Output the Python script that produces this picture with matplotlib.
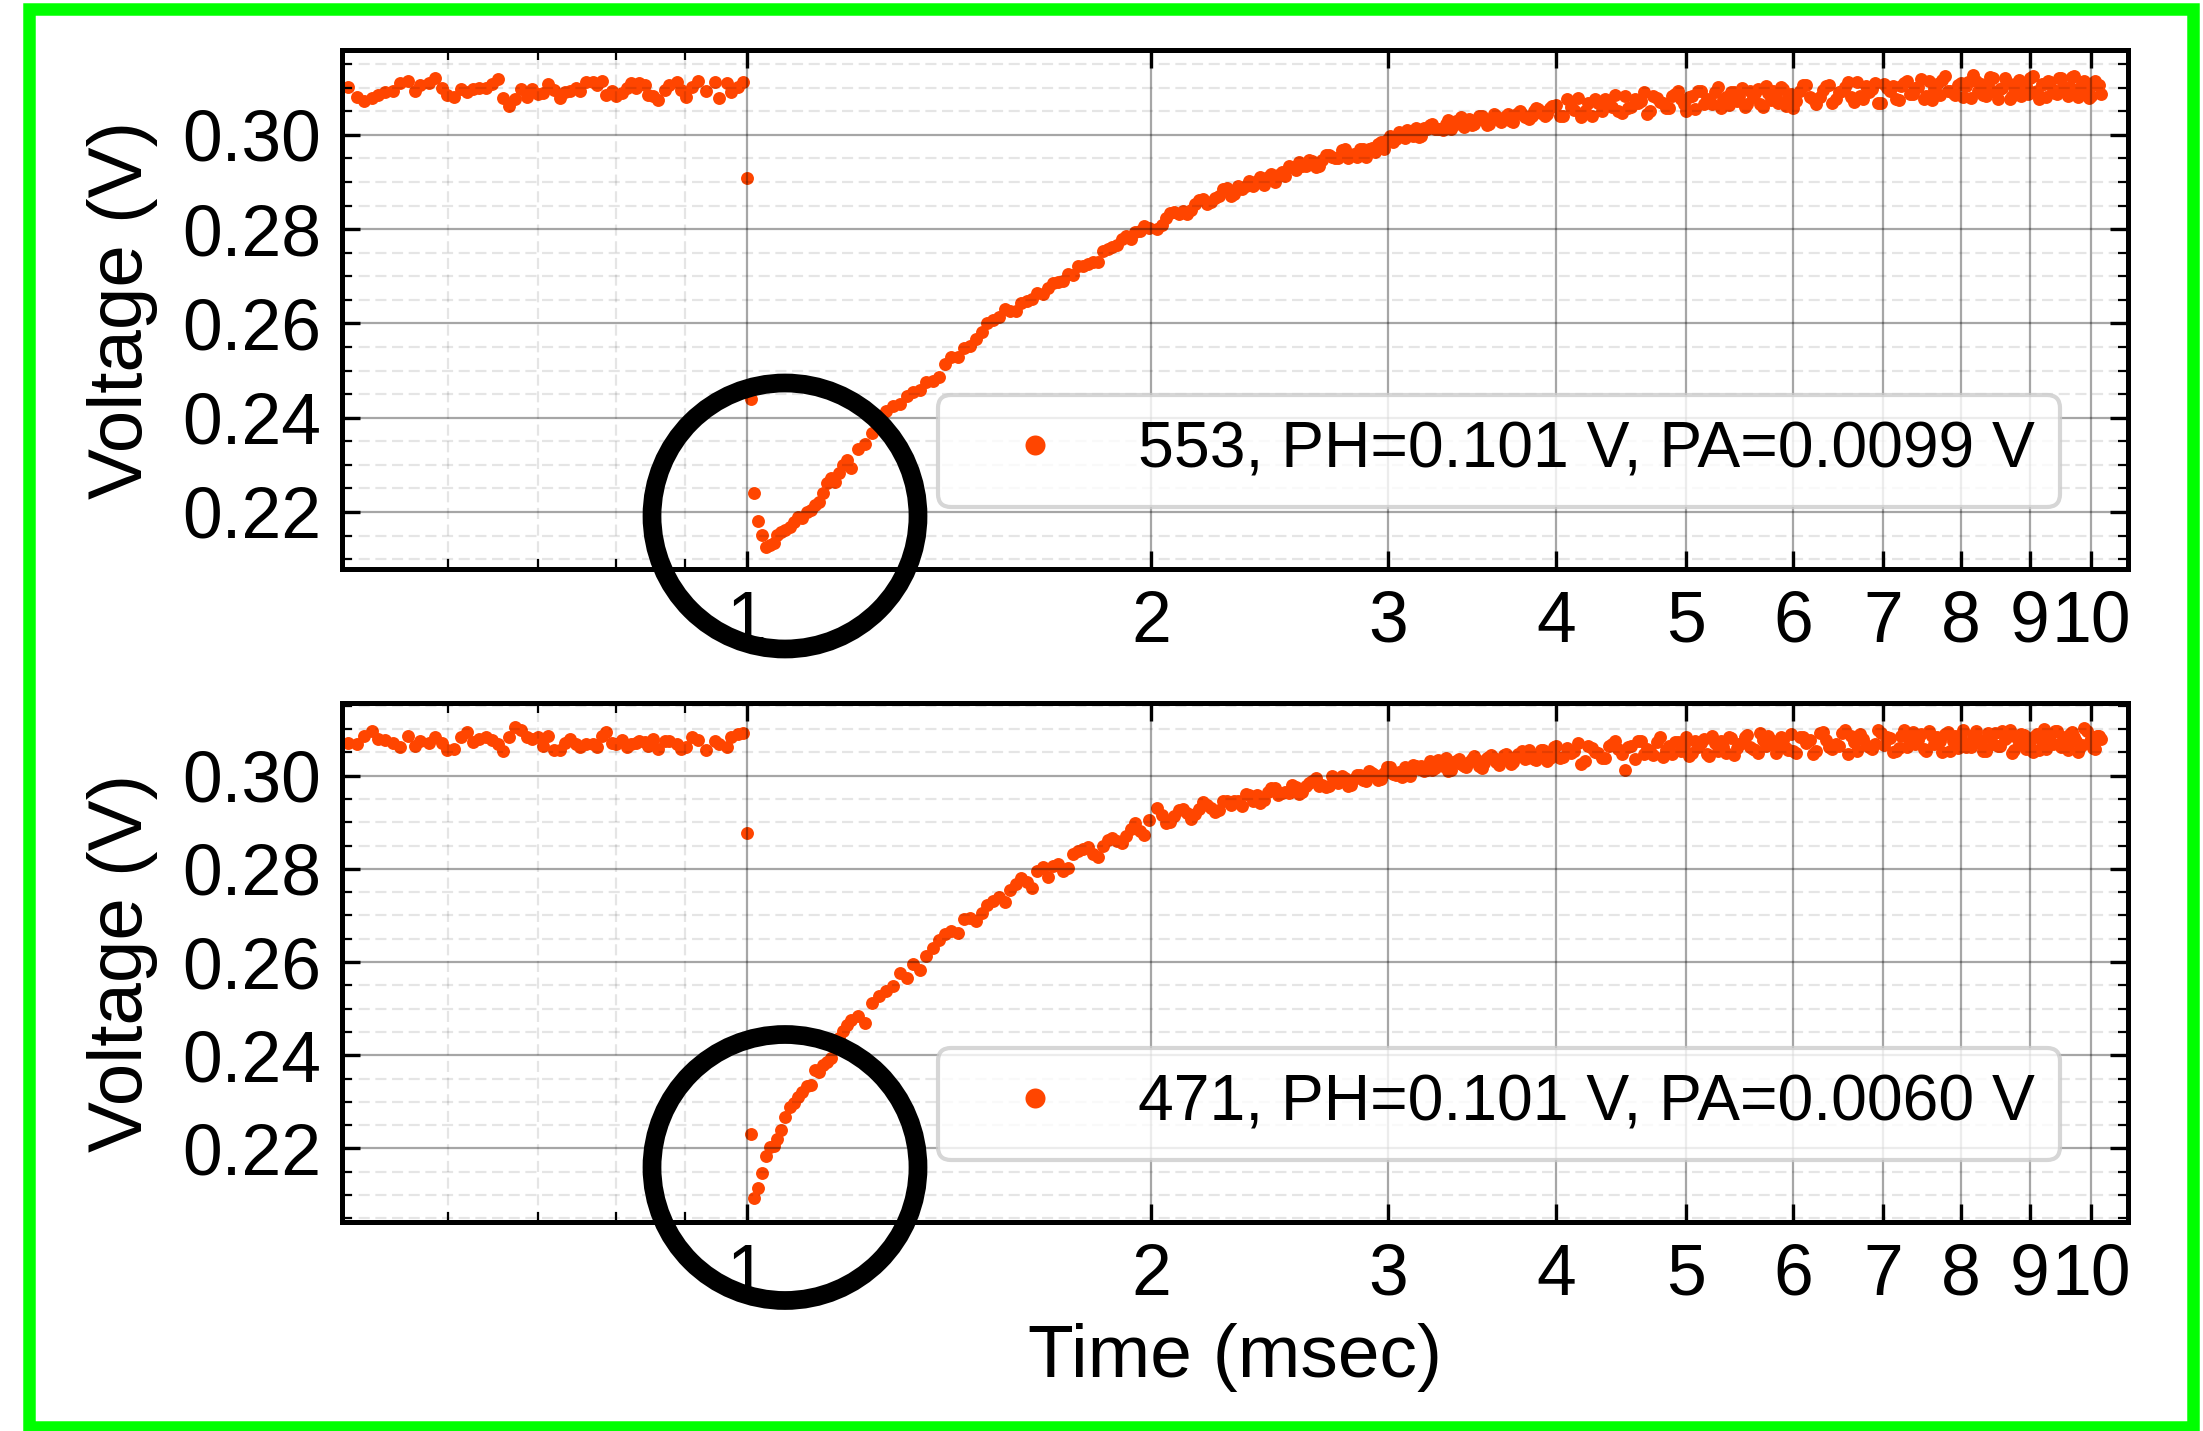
import matplotlib
matplotlib.use('Agg')
import matplotlib.pyplot as plt
import numpy as np
from matplotlib.ticker import (FixedLocator, FixedFormatter, MultipleLocator,
                               FormatStrFormatter, NullFormatter)
from matplotlib.patches import Ellipse, Rectangle

plt.rcParams['font.family'] = ['Liberation Sans', 'DejaVu Sans']

# ---------------- data (time in ms, voltage in units of 0.1 mV) ----------------
t_pre = [0.505, 0.513, 0.519, 0.526, 0.532, 0.538, 0.546, 0.552, 0.560, 0.567,
         0.571, 0.580, 0.586, 0.593, 0.598, 0.606, 0.613, 0.619, 0.626, 0.632,
         0.640, 0.646, 0.653, 0.659, 0.666, 0.672, 0.679, 0.686, 0.692, 0.700,
         0.706, 0.712, 0.719, 0.726, 0.732, 0.739, 0.746, 0.752, 0.760, 0.769,
         0.774, 0.780, 0.786, 0.794, 0.800, 0.807, 0.814, 0.820, 0.827, 0.832,
         0.840, 0.844, 0.852, 0.859, 0.869, 0.876, 0.887, 0.894, 0.901, 0.910,
         0.920, 0.933, 0.947, 0.954, 0.966, 0.974, 0.985, 0.994]

t_post = [1.000, 1.0065, 1.013, 1.020, 1.026, 1.033, 1.040, 1.047, 1.054, 1.061,
          1.068, 1.076, 1.084, 1.092, 1.100, 1.108, 1.116, 1.124, 1.132, 1.140,
          1.148, 1.156, 1.164, 1.172, 1.180, 1.188, 1.196,
          1.210, 1.225, 1.240, 1.255, 1.270, 1.285, 1.300, 1.315, 1.330, 1.345,
          1.360, 1.375, 1.390, 1.405, 1.420, 1.435, 1.450, 1.465, 1.480, 1.495,
          1.510, 1.525, 1.540, 1.555, 1.570, 1.585, 1.600, 1.615, 1.630, 1.645,
          1.660, 1.675, 1.690, 1.705, 1.720, 1.735, 1.750, 1.765, 1.780, 1.795,
          1.810, 1.825, 1.840, 1.855, 1.870, 1.885, 1.900, 1.915, 1.930, 1.945,
          1.960, 1.975, 1.990,
          2.02, 2.05, 2.08, 2.11, 2.14, 2.17, 2.20, 2.23, 2.26, 2.29, 2.32, 2.35,
          2.38, 2.41, 2.44, 2.47, 2.50, 2.53, 2.56, 2.59, 2.62, 2.65, 2.68, 2.71,
          2.74, 2.77, 2.80, 2.83, 2.86, 2.89, 2.92, 2.95, 2.98, 3.01, 3.04, 3.07,
          3.10, 3.13, 3.16, 3.19, 3.22, 3.25, 3.28, 3.31, 3.34, 3.37, 3.40, 3.43,
          3.46, 3.49, 3.52, 3.55, 3.58, 3.61, 3.64, 3.67, 3.70, 3.73, 3.76, 3.79,
          3.82, 3.85, 3.88, 3.91, 3.94, 3.97,
          4.00, 4.05, 4.10, 4.15, 4.20, 4.25, 4.30, 4.35, 4.40, 4.45, 4.50, 4.55,
          4.60, 4.65, 4.70, 4.75, 4.80, 4.85, 4.90, 4.95, 5.00, 5.05, 5.10, 5.15,
          5.20, 5.25, 5.30, 5.35, 5.40, 5.45, 5.50, 5.55, 5.60, 5.65, 5.70, 5.75,
          5.80, 5.85, 5.90, 5.95,
          6.00, 6.07, 6.14, 6.21, 6.28, 6.35, 6.42, 6.49, 6.56, 6.63, 6.70, 6.77,
          6.84, 6.91, 6.98, 7.05, 7.12, 7.19, 7.26, 7.33, 7.40, 7.47, 7.54, 7.61,
          7.68, 7.75, 7.82, 7.89, 7.96, 8.03, 8.10, 8.17, 8.24, 8.31, 8.38, 8.45,
          8.52, 8.59, 8.66, 8.73, 8.80, 8.87, 8.94, 9.01, 9.08, 9.15, 9.22, 9.29,
          9.36, 9.43, 9.50, 9.57, 9.64, 9.71, 9.78, 9.85, 9.92, 9.99, 10.06, 10.13]

# additional samples in the dense part of the recovery (between the above)
t_post2 = [2.035, 2.065, 2.095, 2.125, 2.155, 2.185, 2.215, 2.245, 2.275, 2.305,
           2.335, 2.365, 2.395, 2.425, 2.455, 2.485, 2.515, 2.545, 2.575, 2.605,
           2.635, 2.665, 2.695, 2.725, 2.755, 2.785, 2.815, 2.845, 2.875, 2.905,
           2.935, 2.965, 2.995, 3.025, 3.055, 3.085, 3.115, 3.145, 3.175, 3.205,
           3.235, 3.265, 3.295, 3.325, 3.355, 3.385, 3.415, 3.445, 3.475, 3.505,
           3.535, 3.565, 3.595, 3.625, 3.655, 3.685, 3.715, 3.745, 3.775, 3.805,
           3.835, 3.865, 3.895, 3.925, 3.955, 3.985,
           4.025, 4.075, 4.125, 4.175, 4.225, 4.275, 4.325, 4.375, 4.425, 4.475,
           4.525, 4.575, 4.625, 4.675, 4.725, 4.775, 4.825, 4.875, 4.925, 4.975,
           5.025, 5.075, 5.125, 5.175, 5.225, 5.275, 5.325, 5.375, 5.425, 5.475,
           5.525, 5.575, 5.625, 5.675, 5.725, 5.775, 5.825, 5.875, 5.925, 5.975,
           6.035, 6.105, 6.175, 6.245, 6.315, 6.385, 6.455, 6.525, 6.595, 6.665,
           6.735, 6.805, 6.875, 6.945, 7.015, 7.085, 7.155, 7.225, 7.295, 7.365,
           7.435, 7.505, 7.575, 7.645, 7.715, 7.785, 7.855, 7.925, 7.995, 8.065,
           8.135, 8.205, 8.275, 8.345, 8.415, 8.485, 8.555, 8.625, 8.695, 8.765,
           8.835, 8.905, 8.975, 9.045, 9.115, 9.185, 9.255, 9.325, 9.395, 9.465,
           9.535, 9.605, 9.675, 9.745, 9.815, 9.885, 9.955, 10.025, 10.095, 10.165]

v553_pre = [3101, 3081, 3072, 3078, 3085, 3090, 3093, 3110, 3115, 3093,
            3106, 3111, 3121, 3100, 3085, 3080, 3097, 3090, 3097, 3100,
            3099, 3107, 3118, 3078, 3061, 3076, 3097, 3081, 3097, 3087,
            3088, 3107, 3095, 3078, 3090, 3092, 3100, 3093, 3113, 3113,
            3106, 3115, 3085, 3093, 3083, 3088, 3099, 3110, 3099, 3110,
            3106, 3085, 3083, 3074, 3095, 3106, 3113, 3095, 3081, 3102,
            3115, 3093, 3113, 3078, 3110, 3090, 3102, 3113]

v553_post = [2909, 2440, 2241, 2181, 2152, 2126, 2130, 2135, 2152, 2158,
             2162, 2169, 2179, 2190, 2188, 2200, 2205, 2214, 2222, 2241,
             2262, 2273, 2264, 2283, 2300, 2311, 2294,
             2333, 2345, 2368, 2399, 2414, 2424, 2429, 2445, 2455, 2458,
             2475, 2478, 2487, 2513, 2528, 2529, 2548, 2552, 2566, 2581,
             2601, 2608, 2614, 2630, 2626, 2626, 2644, 2647, 2651, 2665,
             2663, 2675, 2686, 2687, 2691, 2704, 2702, 2721, 2721, 2725,
             2730, 2730, 2754, 2758, 2763, 2766, 2779, 2786, 2780, 2793,
             2796, 2806, 2803,
             2801, 2824, 2837, 2838, 2841, 2861, 2854, 2867, 2886, 2870,
             2891, 2892, 2891, 2910, 2910, 2900, 2922, 2934, 2925, 2933,
             2947, 2932, 2947, 2957, 2951, 2968, 2951, 2959, 2970, 2953,
             2973, 2980, 2971, 2997, 2991, 2999, 3011, 2997, 2995, 3014,
             3021, 3013, 3012, 3023, 3013, 3030, 3038, 3022, 3021, 3031,
             3040, 3020, 3033, 3040, 3027, 3041, 3030, 3042, 3051, 3038,
             3034, 3050, 3055, 3048, 3044, 3061,
             3063, 3040, 3059, 3078, 3051, 3039, 3068, 3076, 3060, 3051,
             3082, 3059, 3068, 3090, 3051, 3078, 3068, 3058, 3086, 3077,
             3050, 3083, 3093, 3066, 3073, 3091, 3058, 3081, 3090, 3071,
             3100, 3066, 3080, 3097, 3060, 3089, 3093, 3067, 3098, 3079,
             3058, 3093, 3106, 3075, 3081, 3104, 3067, 3091, 3102, 3081,
             3112, 3075, 3090, 3109, 3067, 3099, 3104, 3073, 3109, 3087,
             3099, 3119, 3083, 3074, 3107, 3117, 3094, 3088, 3106, 3081,
             3113, 3126, 3092, 3085, 3105, 3120, 3076, 3100, 3113, 3083,
             3111, 3082, 3104, 3121, 3090, 3076, 3107, 3115, 3096, 3086,
             3120, 3093, 3101, 3125, 3080, 3110, 3097, 3083, 3114, 3106]

v553_post2 = [2809, 2835, 2833, 2833, 2854, 2863, 2857, 2871, 2888, 2874,
              2886, 2902, 2903, 2894, 2918, 2915, 2913, 2932, 2943, 2933,
              2944, 2934, 2957, 2953, 2950, 2971, 2957, 2954, 2969, 2970,
              2963, 2985, 2989, 2984, 3007, 2994, 3001, 3014, 2997, 3012,
              3022, 3013, 3011, 3032, 3020, 3028, 3016, 3033, 3024, 3040,
              3032, 3024, 3045, 3031, 3035, 3044, 3028, 3046, 3044, 3038,
              3039, 3057, 3047, 3040, 3056, 3061,
              3041, 3075, 3053, 3037, 3067, 3075, 3050, 3065, 3085, 3046,
              3058, 3077, 3071, 3044, 3083, 3069, 3056, 3082, 3093, 3065,
              3080, 3055, 3092, 3076, 3066, 3102, 3074, 3064, 3090, 3083,
              3060, 3093, 3088, 3065, 3103, 3073, 3080, 3102, 3062, 3086,
              3071, 3106, 3080, 3065, 3095, 3105, 3077, 3092, 3113, 3070,
              3083, 3104, 3097, 3067, 3107, 3092, 3076, 3104, 3115, 3087,
              3102, 3076, 3114, 3097, 3084, 3125, 3094, 3084, 3110, 3103,
              3079, 3114, 3107, 3082, 3122, 3090, 3097, 3120, 3076, 3101,
              3117, 3093, 3086, 3125, 3094, 3108, 3080, 3113, 3089, 3120,
              3103, 3083, 3122, 3093, 3099, 3115, 3078, 3110, 3106, 3087]

v471_pre = [3071, 3068, 3086, 3096, 3078, 3076, 3071, 3061, 3086, 3064,
            3075, 3071, 3083, 3071, 3055, 3057, 3082, 3093, 3073, 3078,
            3082, 3076, 3069, 3052, 3082, 3105, 3098, 3082, 3078, 3082,
            3064, 3086, 3055, 3055, 3071, 3078, 3068, 3061, 3069, 3068,
            3061, 3086, 3093, 3071, 3068, 3076, 3061, 3068, 3071, 3075,
            3072, 3064, 3078, 3057, 3075, 3075, 3068, 3057, 3061, 3082,
            3076, 3055, 3075, 3068, 3061, 3082, 3089, 3091]

v471_post = [2876, 2230, 2093, 2114, 2147, 2183, 2202, 2206, 2221, 2239,
             2268, 2288, 2298, 2310, 2322, 2333, 2336, 2369, 2365, 2378,
             2385, 2395, 2415, 2437, 2452, 2465, 2476,
             2485, 2470, 2512, 2527, 2538, 2549, 2576, 2566, 2596, 2583,
             2612, 2630, 2648, 2660, 2667, 2663, 2692, 2694, 2688, 2706,
             2722, 2732, 2739, 2728, 2754, 2768, 2781, 2772, 2758, 2796,
             2803, 2783, 2806, 2811, 2796, 2802, 2832, 2838, 2843, 2847,
             2832, 2826, 2850, 2862, 2866, 2860, 2855, 2870, 2886, 2898,
             2882, 2872, 2905,
             2931, 2898, 2914, 2928, 2908, 2929, 2936, 2922, 2945, 2937,
             2946, 2961, 2945, 2942, 2965, 2973, 2963, 2962, 2975, 2964,
             2985, 2995, 2979, 2977, 2990, 3000, 2978, 2993, 3002, 2988,
             3005, 2991, 3005, 3018, 3002, 2997, 3016, 3022, 3014, 3010,
             3031, 3017, 3023, 3037, 3013, 3031, 3025, 3018, 3036, 3033,
             3016, 3037, 3044, 3029, 3033, 3046, 3026, 3040, 3047, 3036,
             3055, 3035, 3043, 3055, 3031, 3050,
             3063, 3040, 3049, 3071, 3032, 3059, 3049, 3039, 3067, 3058,
             3012, 3064, 3075, 3047, 3054, 3073, 3040, 3063, 3072, 3053,
             3082, 3048, 3062, 3078, 3042, 3070, 3075, 3048, 3080, 3060,
             3070, 3088, 3057, 3048, 3076, 3086, 3066, 3061, 3077, 3055,
             3053, 3083, 3070, 3046, 3091, 3077, 3057, 3064, 3098, 3085,
             3054, 3079, 3062, 3068, 3092, 3082, 3051, 3060, 3097, 3077,
             3067, 3089, 3054, 3085, 3082, 3050, 3093, 3074, 3060, 3097,
             3067, 3088, 3078, 3054, 3092, 3069, 3064, 3095, 3083, 3048,
             3081, 3089, 3058, 3072, 3085, 3055, 3100, 3076, 3068, 3095,
             3061, 3071, 3090, 3082, 3051, 3065, 3096, 3079, 3057, 3086]

v471_post2 = [2916, 2900, 2927, 2920, 2917, 2943, 2930, 2927, 2945, 2945,
              2934, 2958, 2958, 2947, 2974, 2958, 2966, 2981, 2960, 2977,
              2988, 2978, 2976, 3000, 2985, 2995, 2981, 3001, 2990, 3009,
              3001, 2993, 3018, 3003, 3008, 3019, 3000, 3021, 3020, 3012,
              3013, 3033, 3020, 3011, 3030, 3035, 3021, 3029, 3042, 3020,
              3028, 3040, 3037, 3022, 3045, 3037, 3030, 3046, 3053, 3037,
              3047, 3033, 3055, 3045, 3039, 3062,
              3039, 3060, 3052, 3025, 3064, 3050, 3037, 3063, 3074, 3047,
              3061, 3036, 3074, 3057, 3045, 3084, 3056, 3046, 3072, 3065,
              3042, 3075, 3070, 3046, 3085, 3054, 3062, 3083, 3044, 3067,
              3082, 3061, 3055, 3092, 3064, 3077, 3049, 3082, 3059, 3090,
              3049, 3084, 3077, 3052, 3093, 3061, 3068, 3091, 3047, 3072,
              3089, 3065, 3058, 3097, 3066, 3080, 3053, 3086, 3062, 3093,
              3077, 3057, 3096, 3067, 3074, 3090, 3053, 3085, 3081, 3062,
              3061, 3095, 3069, 3053, 3083, 3092, 3064, 3078, 3099, 3055,
              3068, 3088, 3081, 3050, 3090, 3074, 3058, 3085, 3096, 3067,
              3082, 3055, 3093, 3075, 3062, 3102, 3071, 3060, 3086, 3079]

labels = ['553, PH=0.101 V, PA=0.0099 V', '471, PH=0.101 V, PA=0.0060 V']
xticks = [1, 2, 3, 4, 5, 6, 7, 8, 9, 10]
xticklabels = ['1', '2', '3', '4', '5', '6', '7', '8', '9', '10']
xminor = [0.6, 0.7, 0.8, 0.9]

# ---------------- figure ----------------
W, H = 2203, 1431
fig = plt.figure(figsize=(W / 100, H / 100), dpi=100)
fig.patch.set_facecolor('white')

panels = [
    (v553_pre + v553_post, v553_post2, labels[0], 569, (0.2079, 0.3180)),
    (v471_pre + v471_post, v471_post2, labels[1], 1222, (0.2042, 0.3156)),
]

color = '#FF4500'
ms = 9.3
axes = []
for i, (v, v2, lab, ybot, ylim) in enumerate(panels):
    ax = fig.add_axes([342 / W, 1 - ybot / H, 1786 / W, 519 / H])
    axes.append(ax)
    ax.plot(np.array(t_pre + t_post), np.array(v) / 1e4, 'o', color=color,
            ms=ms, mew=0, label=lab, zorder=2)
    ax.plot(np.array(t_post2), np.array(v2) / 1e4, 'o', color=color,
            ms=ms, mew=0, zorder=2)
    ax.set_xscale('log')
    ax.set_xlim(0.5, 10.65)
    ax.set_ylim(*ylim)
    ax.xaxis.set_major_locator(FixedLocator(xticks))
    ax.xaxis.set_major_formatter(FixedFormatter(xticklabels))
    ax.xaxis.set_minor_locator(FixedLocator(xminor))
    ax.xaxis.set_minor_formatter(NullFormatter())
    ax.yaxis.set_major_locator(MultipleLocator(0.02))
    ax.yaxis.set_minor_locator(MultipleLocator(0.005))
    ax.yaxis.set_major_formatter(FormatStrFormatter('%.2f'))

    ax.set_axisbelow(False)
    ax.grid(which='major', color='black', alpha=0.35, lw=1.6)
    ax.grid(which='minor', color='black', alpha=0.1, lw=1.6, ls=(0, (5, 2.5)))

    for sp in ax.spines.values():
        sp.set_linewidth(3.6)
    ax.tick_params(which='both', direction='in', top=True, right=True,
                   labelsize=51.5, pad=15)
    ax.tick_params(which='major', length=13, width=2.4)
    ax.tick_params(which='minor', length=7, width=1.6)

    ax.set_ylabel('Voltage (V)', fontsize=55)
    ax.yaxis.set_label_coords(-0.103, 0.5)

    leg = ax.legend(loc='lower right', bbox_to_anchor=(0.962, 0.12),
                    borderaxespad=0, fontsize=46.3, markerscale=1.55,
                    handlelength=2.2, handletextpad=0.5, borderpad=0.4,
                    frameon=True, fancybox=True, framealpha=0.8,
                    edgecolor='#cccccc')
    leg.get_frame().set_linewidth(3)
    leg.set_zorder(5)

axes[1].set_xlabel('Time (msec)', fontsize=54)
axes[1].xaxis.set_label_coords(0.5, -0.195)

# annotation circles
for cy in [516, 1167.5]:
    fig.add_artist(Ellipse((785 / W, 1 - cy / H), width=266 / W, height=266 / H,
                           transform=fig.transFigure, fill=False,
                           edgecolor='black', lw=13.5, zorder=10))

# green frame
fig.add_artist(Rectangle((29 / W, 1 - 1427 / H), (2193 - 29) / W, (1427 - 9) / H,
                         transform=fig.transFigure, fill=False,
                         edgecolor='#00FF00', lw=9, zorder=11))

fig.savefig('out.png', dpi=100)
